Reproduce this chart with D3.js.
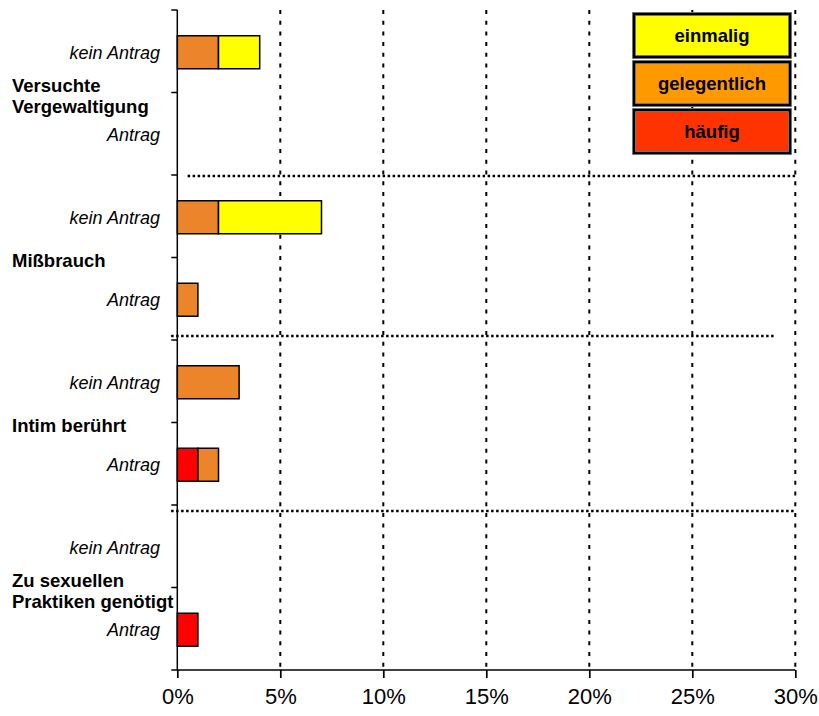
<!DOCTYPE html>
<html><head><meta charset="utf-8">
<script src="https://cdn.jsdelivr.net/npm/d3@7/dist/d3.min.js"></script>
<style>
html,body{margin:0;padding:0;background:#fff;}
svg{display:block;font-family:"Liberation Sans",Arial,Helvetica,sans-serif;}
</style></head>
<body>
<svg id="chart" width="819" height="716"></svg>
<script>
// ---- data ----
const categories = ["Versuchte Vergewaltigung", "Mißbrauch", "Intim berührt", "Zu sexuellen Praktiken genötigt"];
const categoryLines = [["Versuchte", "Vergewaltigung"], ["Mißbrauch"], ["Intim berührt"], ["Zu sexuellen", "Praktiken genötigt"]];
const subgroups = ["kein Antrag", "Antrag"];
const seriesNames = ["häufig", "gelegentlich", "einmalig"];
// values per row (category x subgroup, top to bottom), in percent
const haeufig      = [0, 0, 0, 0, 0, 1, 0, 1];
const gelegentlich = [2, 0, 2, 1, 3, 1, 0, 0];
const einmalig     = [2, 0, 5, 0, 0, 0, 0, 0];
const xTicks = [0, 5, 10, 15, 20, 25, 30];
const legendOrder = ["einmalig", "gelegentlich", "häufig"];

const barColors = {"häufig": "#ff0000", "gelegentlich": "#ec842a", "einmalig": "#ffff00"};
const legendColors = {"häufig": "#ff3300", "gelegentlich": "#ff9900", "einmalig": "#ffff00"};

// ---- layout ----
const svg = d3.select("#chart");
const x = d3.scaleLinear().domain([0, 30]).range([177.3, 795.3]);
const rows = [];
categories.forEach((c, ci) => subgroups.forEach((s, si) => rows.push({cat: c, ci, sub: s, key: c + "|" + s})));
const y = d3.scaleBand().domain(rows.map(r => r.key)).range([10, 670]).paddingInner(0.6).paddingOuter(0.3);
const step = y.step();
const yTop = 10, yBottom = 670;

const valueSeries = {"häufig": haeufig, "gelegentlich": gelegentlich, "einmalig": einmalig};
const table = rows.map((r, i) => {
  const o = {key: r.key};
  seriesNames.forEach(s => o[s] = valueSeries[s][i]);
  return o;
});
const stacked = d3.stack().keys(seriesNames)(table);

// vertical dotted grid lines
svg.append("g").selectAll("line").data(xTicks.filter(t => t > 0)).join("line")
  .attr("x1", d => x(d)).attr("x2", d => x(d))
  .attr("y1", yTop).attr("y2", yBottom)
  .attr("stroke", "#000").attr("stroke-width", 2).attr("stroke-dasharray", "4,6.7");

// horizontal dotted separators (x extents in data units, y relative to group boundary)
const separators = [
  {group: 1, x0: 0.5, x1: 30, dy: 1},
  {group: 2, x0: -0.3, x1: 29, dy: -4},
  {group: 3, x0: -0.3, x1: 30, dy: 6}
];
svg.append("g").selectAll("line").data(separators).join("line")
  .attr("x1", d => x(d.x0)).attr("x2", d => x(d.x1))
  .attr("y1", d => yTop + d.group * 2 * step + d.dy)
  .attr("y2", d => yTop + d.group * 2 * step + d.dy)
  .attr("stroke", "#000").attr("stroke-width", 2.5).attr("stroke-dasharray", "2.5,2.5");

// bars
svg.append("g").selectAll("g").data(stacked).join("g")
  .attr("fill", d => barColors[d.key])
  .selectAll("rect").data(d => d.filter(p => p[1] - p[0] > 0)).join("rect")
  .attr("x", d => x(d[0]))
  .attr("width", d => x(d[1]) - x(d[0]))
  .attr("y", d => y(d.data.key) + 1)
  .attr("height", y.bandwidth())
  .attr("stroke", "#000").attr("stroke-width", 1.5);

// y axis
const yAxisG = svg.append("g");
yAxisG.append("line").attr("x1", x(0)).attr("x2", x(0)).attr("y1", yTop).attr("y2", yBottom)
  .attr("stroke", "#000").attr("stroke-width", 1.5);
const boundaries = d3.range(rows.length + 1).map(i => yTop + i * step);
yAxisG.selectAll("line.tick").data(boundaries).join("line").attr("class", "tick")
  .attr("x1", x(0) - 6).attr("x2", x(0)).attr("y1", d => d).attr("y2", d => d)
  .attr("stroke", "#000").attr("stroke-width", 1.5);

// sub labels
svg.append("g").selectAll("text").data(rows).join("text")
  .attr("x", 160).attr("y", d => y(d.key) + y.bandwidth() / 2 + 1)
  .attr("dy", "0.35em").attr("text-anchor", "end")
  .attr("font-size", 18).attr("font-style", "italic").attr("fill", "#000")
  .text(d => d.sub);

// category labels
const catG = svg.append("g");
categories.forEach((c, ci) => {
  const lines = categoryLines[ci];
  const by = yTop + (ci * 2 + 1) * step;
  const t = catG.append("text").attr("x", 12).attr("font-size", 18.5).attr("font-weight", "bold").attr("fill", "#000");
  if (lines.length === 1) {
    t.attr("y", by + 9).text(lines[0]);
  } else {
    lines.forEach((l, li) => t.append("tspan").attr("x", 12).attr("y", by - 1 + li * 21).text(l));
  }
});

// x axis
const xAxis = d3.axisBottom(x).tickValues(xTicks).tickSize(8).tickPadding(10).tickFormat(d => d + "%");
const xg = svg.append("g").attr("transform", `translate(0,${yBottom})`).call(xAxis);
xg.select(".domain").attr("stroke-width", 1.7).attr("d", `M${x(0)},0H${x(30)}`);
xg.selectAll(".tick line").attr("stroke-width", 1.7);
xg.selectAll(".tick text").attr("font-size", 22).attr("fill", "#000")
  .attr("font-family", "'Liberation Sans',Arial,sans-serif");

// legend
const lg = svg.append("g");
const lx = 634, lw = 156, lh = 43, lgap = 48, ly0 = 14;
legendOrder.forEach((s, i) => {
  lg.append("rect").attr("x", lx).attr("y", ly0 + i * lgap).attr("width", lw).attr("height", lh)
    .attr("fill", legendColors[s]).attr("stroke", "#999").attr("stroke-width", 4);
  lg.append("rect").attr("x", lx).attr("y", ly0 + i * lgap).attr("width", lw).attr("height", lh)
    .attr("fill", "none").attr("stroke", "#000").attr("stroke-width", 2.5);
  lg.append("text").attr("x", lx + lw / 2).attr("y", ly0 + i * lgap + lh / 2).attr("dy", "0.33em")
    .attr("text-anchor", "middle").attr("font-size", 18.5).attr("font-weight", "bold").attr("fill", "#000")
    .text(s);
});
</script>
</body></html>
